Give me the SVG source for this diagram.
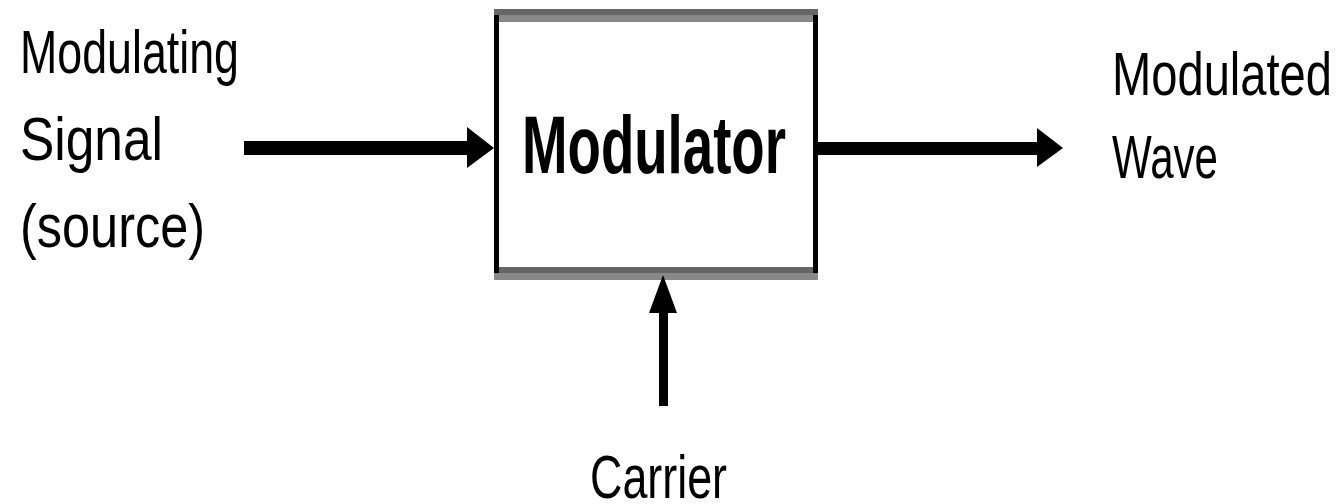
<svg xmlns="http://www.w3.org/2000/svg" width="1343" height="504" viewBox="0 0 1343 504">
<style>
.lbl{font-family:"Liberation Sans",Arial,sans-serif;font-size:62px;fill:#000}
.ttl{font-family:"Liberation Sans",Arial,sans-serif;font-size:81px;font-weight:bold;fill:#000}
</style>
<rect width="1343" height="504" fill="#fff"/>
<g id="modulator">
<rect x="494" y="9" width="324" height="271" fill="#fff"/>
<rect x="494" y="9" width="5" height="271" fill="#000"/>
<rect x="813" y="9" width="5" height="271" fill="#000"/>
<rect x="494" y="9" width="324" height="6" fill="#666"/>
<rect x="499" y="15" width="314" height="7" fill="#888"/>
<rect x="499" y="267" width="314" height="6" fill="#666"/>
<rect x="494" y="273" width="324" height="7" fill="#888"/>
<text class="ttl" x="522" y="173" textLength="264" lengthAdjust="spacingAndGlyphs">Modulator</text>
</g>
<g id="source">
<text class="lbl" x="20" y="73" textLength="219" lengthAdjust="spacingAndGlyphs">Modulating</text>
<text class="lbl" x="20" y="160" textLength="143" lengthAdjust="spacingAndGlyphs">Signal</text>
<text class="lbl" x="20" y="247" textLength="185" lengthAdjust="spacingAndGlyphs">(source)</text>
</g>
<g id="output">
<text class="lbl" x="1112" y="95" textLength="220" lengthAdjust="spacingAndGlyphs">Modulated</text>
<text class="lbl" x="1112" y="178" textLength="106" lengthAdjust="spacingAndGlyphs">Wave</text>
</g>
<g id="carrier">
<text class="lbl" x="590" y="498" textLength="137" lengthAdjust="spacingAndGlyphs">Carrier</text>
</g>
<g id="connectors">
<rect x="244" y="141" width="230" height="14" fill="#000"/>
<polygon points="467,127 494,148 467,168" fill="#000"/>
<rect x="818" y="142" width="225" height="13" fill="#000"/>
<polygon points="1037,128 1063,148 1037,167" fill="#000"/>
<rect x="659" y="300" width="9" height="106" fill="#000"/>
<polygon points="649,313 663,275 677,313" fill="#000"/>
</g>
</svg>
